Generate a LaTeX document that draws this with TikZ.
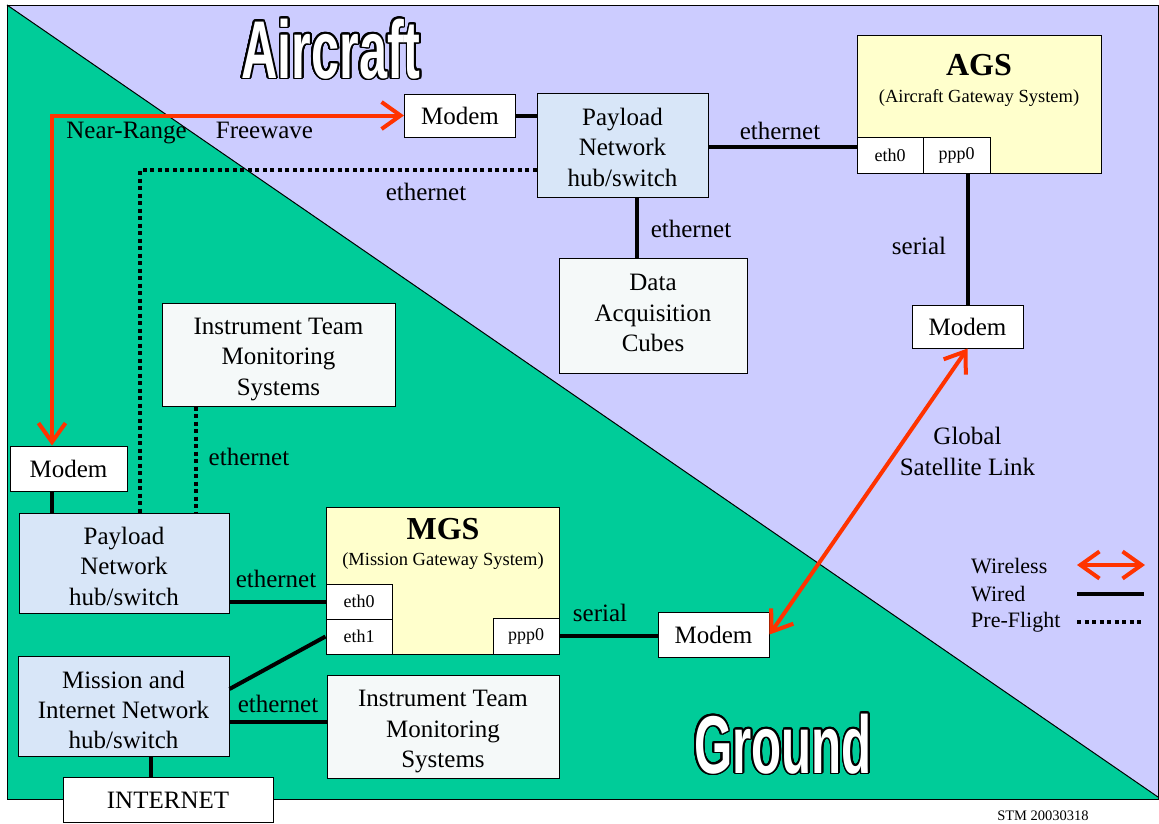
\documentclass[tikz,border=0pt]{standalone}
\usepackage{fontspec}
\setmainfont{Liberation Serif}
\newfontfamily\headfont{Liberation Sans}
\usetikzlibrary{arrows.meta,calc}
\definecolor{groundgreen}{HTML}{00CC99}
\definecolor{airlav}{HTML}{CCCCFF}
\definecolor{payblue}{HTML}{D8E6F8}
\definecolor{gwyellow}{HTML}{FFFFCC}
\definecolor{paleinfo}{HTML}{F5F9F9}
\definecolor{wirered}{HTML}{FF3300}
\begin{document}
\begin{tikzpicture}[x=1pt,y=-1pt,
  box/.style={draw=black,line width=1pt,inner sep=0pt},
  modembox/.style={box,fill=white,minimum width=111pt,minimum height=43pt,font=\fontsize{25}{30}\selectfont},
  hubbox/.style={box,fill=payblue},
  infobox/.style={box,fill=paleinfo},
  gwbox/.style={box,fill=gwyellow},
  portbox/.style={box,fill=white,font=\fontsize{18}{20}\selectfont},
  boxtext/.style={inner sep=0pt,align=center,font=\fontsize{25}{30.5}\selectfont},
  lbl/.style={inner sep=0pt,anchor=base,font=\fontsize{25}{30}\selectfont},
  legendtext/.style={inner sep=0pt,anchor=base west,font=\fontsize{22}{26}\selectfont},
  wired/.style={line width=4pt},
  preflight/.style={line width=4pt,dash pattern=on 4pt off 3.5pt},
  wireless/.style={line width=4pt,draw=wirered,{Straight Barb[length=19pt,width=27pt]}-{Straight Barb[length=19pt,width=27pt]}},
  titletext/.style={inner sep=0pt,anchor=base,font=\headfont\bfseries\fontsize{82}{82}\selectfont},
]
\useasboundingbox (0,0) rectangle (1159,823);
% background regions
\fill[airlav] (7,5) rectangle (1158,799);
\fill[groundgreen] (7,5) -- (1158,797) -- (1158,799) -- (7,799) -- cycle;
\draw[line width=1pt] (7,5) -- (1158,797);
\draw[line width=1pt] (7,5) rectangle (1158,799);

% titles (outlined: black copies around a white copy)
\foreach \a in {0,15,...,345}
  \node[titletext,text=black] at ($(331,78)+(\a:1.7)$) {\scalebox{0.615}[1]{Aircraft}};
\node[titletext,text=white] (aircraft) at (331,78) {\scalebox{0.615}[1]{Aircraft}};
\foreach \a in {0,15,...,345}
  \node[titletext,text=black] at ($(783,773)+(\a:1.7)$) {\scalebox{0.60}[1]{Ground}};
\node[titletext,text=white] (ground) at (783,773) {\scalebox{0.60}[1]{Ground}};

% boxes
\node[modembox] (modemA) at (460,115.5) {Modem};
\node[hubbox,minimum width=171pt,minimum height=104pt] (payA) at (622.5,145) {};
\node[boxtext] (payAt) at (622.5,147) {Payload\\Network\\hub/switch};
\node[gwbox,minimum width=244pt,minimum height=138pt] (ags) at (979,104) {};
\node[inner sep=0pt,anchor=base,font=\bfseries\fontsize{32}{34}\selectfont] (agst) at (979,75) {AGS};
\node[inner sep=0pt,anchor=base,font=\fontsize{18.5}{20}\selectfont] (agss) at (979,102) {(Aircraft Gateway System)};
\node[portbox,minimum width=66pt,minimum height=36pt] (agsEth) at (890,155) {eth0};
\node[portbox,minimum width=67pt,minimum height=36pt] (agsPpp) at (956.5,155) {ppp0};
\node[modembox] (modemB) at (967.5,326.5) {Modem};
\node[infobox,minimum width=188pt,minimum height=115pt] (daq) at (653,315.5) {};
\node[boxtext] (daqt) at (653,313) {Data\\Acquisition\\Cubes};
\node[infobox,minimum width=233pt,minimum height=103pt] (instA) at (278.5,354.5) {};
\node[boxtext] (instAt) at (278.5,359.5) {Instrument Team\\Monitoring\\Systems};
\node[modembox,minimum width=117pt,minimum height=45pt] (modemC) at (68.5,468.5) {Modem};
\node[hubbox,minimum width=210pt,minimum height=100pt] (payB) at (124,563) {};
\node[boxtext] (payBt) at (124,566) {Payload\\Network\\hub/switch};
\node[gwbox,minimum width=233pt,minimum height=147pt] (mgs) at (442.5,580.5) {};
\node[inner sep=0pt,anchor=base,font=\bfseries\fontsize{32}{34}\selectfont] (mgst) at (443,539) {MGS};
\node[inner sep=0pt,anchor=base,font=\fontsize{18.5}{20}\selectfont] (mgss) at (443,565) {(Mission Gateway System)};
\node[portbox,minimum width=66pt,minimum height=35pt] (mgsEth0) at (359,601.5) {eth0};
\node[portbox,minimum width=66pt,minimum height=35pt] (mgsEth1) at (359,636.5) {eth1};
\node[portbox,minimum width=66pt,minimum height=36pt] (mgsPpp) at (526,636) {ppp0};
\node[modembox,minimum height=45pt] (modemD) at (713.5,634.5) {Modem};
\node[hubbox,minimum width=211pt,minimum height=100pt] (mis) at (123.5,706) {};
\node[boxtext,font=\fontsize{25}{30}\selectfont] (mist) at (123.5,709.5) {Mission and\\Internet Network\\hub/switch};
\node[infobox,minimum width=232pt,minimum height=103pt] (instB) at (443,726.5) {};
\node[boxtext] (instBt) at (443,731.5) {Instrument Team\\Monitoring\\Systems};
\node[box,fill=white,minimum width=210pt,minimum height=45pt] (inet) at (168,799.5) {};
\node[inner sep=0pt,anchor=base,font=\fontsize{25}{30}\selectfont] (inett) at (168,808) {INTERNET};

% helper coordinates
\coordinate (e1) at (0,147);
\coordinate (e2) at (637,0);
\coordinate (d1) at (140,170);
\coordinate (d2) at (196,0);
\coordinate (w0) at (52,116);
\coordinate (e3) at (0,689);
\coordinate (e4) at (0,722);
\coordinate (e5) at (151,0);

% connectors
\draw[wired] (modemA.east) -- (modemA.east -| payA.west);
\draw[wired] (payA.east |- e1) -- (agsEth.west |- e1);
\draw[wired] (modemB.north |- agsPpp.south) -- (modemB.north);
\draw[wired] (payA.south -| e2) -- (daq.north -| e2);
\draw[preflight] (payA.west |- d1) -- (d1) -- (d1 |- payB.north);
\draw[preflight] (instA.south -| d2) -- (payB.north -| d2);
\draw[wireless] (modemA.west) -- (modemA.west -| w0) -- (w0 |- modemC.north);
\draw[wired] (modemC.south -| w0) -- (payB.north -| w0);
\draw[wired] (payB.east |- mgsEth0.west) -- (mgsEth0.west);
\draw[wired] (mis.east |- e3) -- (mgsEth1.west);
\draw[wired] (mis.east |- e4) -- (instB.west |- e4);
\draw[wired] (mis.south -| e5) -- (inet.north -| e5);
\draw[wired] (mgsPpp.east) -- (mgsPpp.east -| modemD.west);
\draw[wireless] (modemD.east) -- (modemB.south);

% labels
\node[lbl] (l1) at (780,139) {ethernet};
\node[lbl] (l2) at (426,200) {ethernet};
\node[lbl] (l3) at (691,237) {ethernet};
\node[lbl] (l4) at (919,254) {serial};
\node[lbl] (l5) at (126.5,138) {Near-Range};
\node[lbl] (l6) at (264.5,138) {Freewave};
\node[lbl] (l7) at (249,465) {ethernet};
\node[lbl] (l8) at (276,587) {ethernet};
\node[lbl] (l9) at (278,712) {ethernet};
\node[lbl] (l10) at (600,621) {serial};
\node[boxtext,font=\fontsize{25}{31}\selectfont] (l11) at (967.5,451) {Global\\Satellite Link};

% legend
\node[legendtext] (lgW) at (971,573) {Wireless};
\node[legendtext] (lgD) at (971,601) {Wired};
\node[legendtext] (lgP) at (971,627) {Pre-Flight};
\coordinate (lw1) at (1077,565);
\coordinate (lw2) at (1145,565);
\coordinate (ld1) at (1077,594);
\coordinate (ld2) at (1144,594);
\coordinate (lp1) at (1077,622);
\coordinate (lp2) at (1141,622);
\draw[wireless] (lw1) -- (lw2);
\draw[wired] (ld1) -- (ld2);
\draw[preflight] (lp1) -- (lp2);

\node[inner sep=0pt,anchor=base,font=\fontsize{14.5}{16}\selectfont] (stm) at (1043,820) {STM 20030318};
\end{tikzpicture}
\end{document}
